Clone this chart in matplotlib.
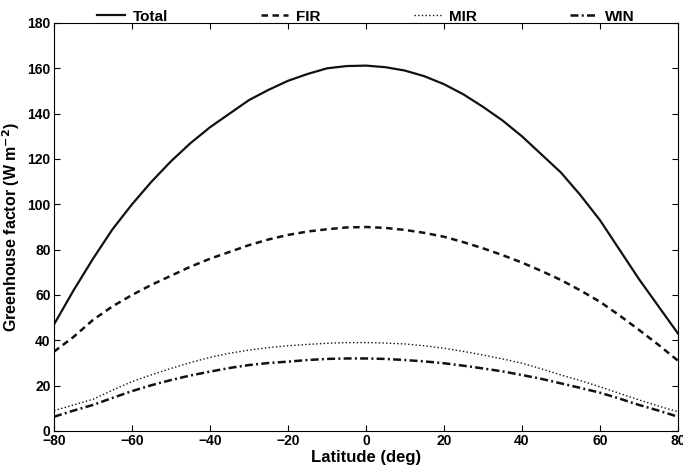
import numpy as np
import matplotlib.pyplot as plt

plt.rcParams['font.family'] = ['Liberation Sans', 'DejaVu Sans']
plt.rcParams['font.weight'] = 'bold'
plt.rcParams['mathtext.default'] = 'bf'

lat = np.arange(-80, 81, 5)
total = [47, 62, 76, 89, 100, 110, 119, 127, 134, 140, 146, 150.5, 154.5, 157.5, 160, 161, 161.2,
         160.5, 159, 156.5, 153, 148.5, 143, 137, 130, 122, 114, 104, 93, 80, 67, 55, 43]
fir = [35, 41.5, 49, 55, 60, 64.5, 68.5, 72.5, 76, 79, 82, 84.5, 86.5, 88, 89, 89.8, 90,
       89.6, 88.7, 87.4, 85.7, 83.3, 80.6, 77.6, 74.3, 70.6, 66.6, 62, 57, 51, 44.6, 38, 31]
mir = [9, 11.5, 14, 18, 21.8, 24.8, 27.6, 30.2, 32.5, 34.3, 35.7, 36.8, 37.6, 38.2, 38.7, 39, 39,
       38.8, 38.4, 37.6, 36.5, 35.1, 33.5, 31.8, 29.9, 27.4, 24.7, 22.2, 19.5, 16.6, 13.7, 11, 8.5]
win = [6.3, 9, 11.5, 14.6, 17.6, 20.2, 22.5, 24.5, 26.2, 27.8, 29.1, 30, 30.6, 31.3, 31.8, 32, 32,
       31.8, 31.3, 30.7, 29.9, 28.8, 27.6, 26.3, 24.7, 23, 21, 19, 16.9, 14.3, 11.5, 9, 6.3]

fig = plt.figure(figsize=(6.83, 4.69), dpi=100)
ax = fig.add_axes([54 / 683, 1 - 431 / 469, 624 / 683, 408 / 469])

ax.plot(lat, total, color="#111111", ls="-", lw=1.6, label="Total")
ax.plot(lat, fir, color="#111111", ls="--", lw=1.8, dashes=(2.6, 1.8), label="FIR")
ax.plot(lat, mir, color="#111111", ls=":", lw=1.0, label="MIR")
ax.plot(lat, win, color="#111111", ls="-.", lw=1.8, dashes=(3.2, 1.3, 0.8, 1.3), label="WIN")

ax.set_xlim(-80, 80)
ax.set_ylim(0, 180)
ax.set_xticks(range(-80, 81, 20))
ax.set_yticks(range(0, 181, 20))
ax.tick_params(direction="in", top=True, right=True, labelsize=10, length=4, pad=2.5)
ax.set_xlabel("Latitude (deg)", fontsize=12, fontweight="bold", labelpad=1)
ax.set_ylabel("Greenhouse factor (W m$^{-2}$)", fontsize=11.5, fontweight="bold", labelpad=4)

ax.legend(loc="lower center", bbox_to_anchor=(0.5, 0.995), ncol=4, frameon=False,
          prop={"size": 11, "weight": "bold"}, columnspacing=6.1, handlelength=1.8,
          handletextpad=0.5, borderaxespad=0, borderpad=0.1)

fig.savefig("out.png", dpi=100)
